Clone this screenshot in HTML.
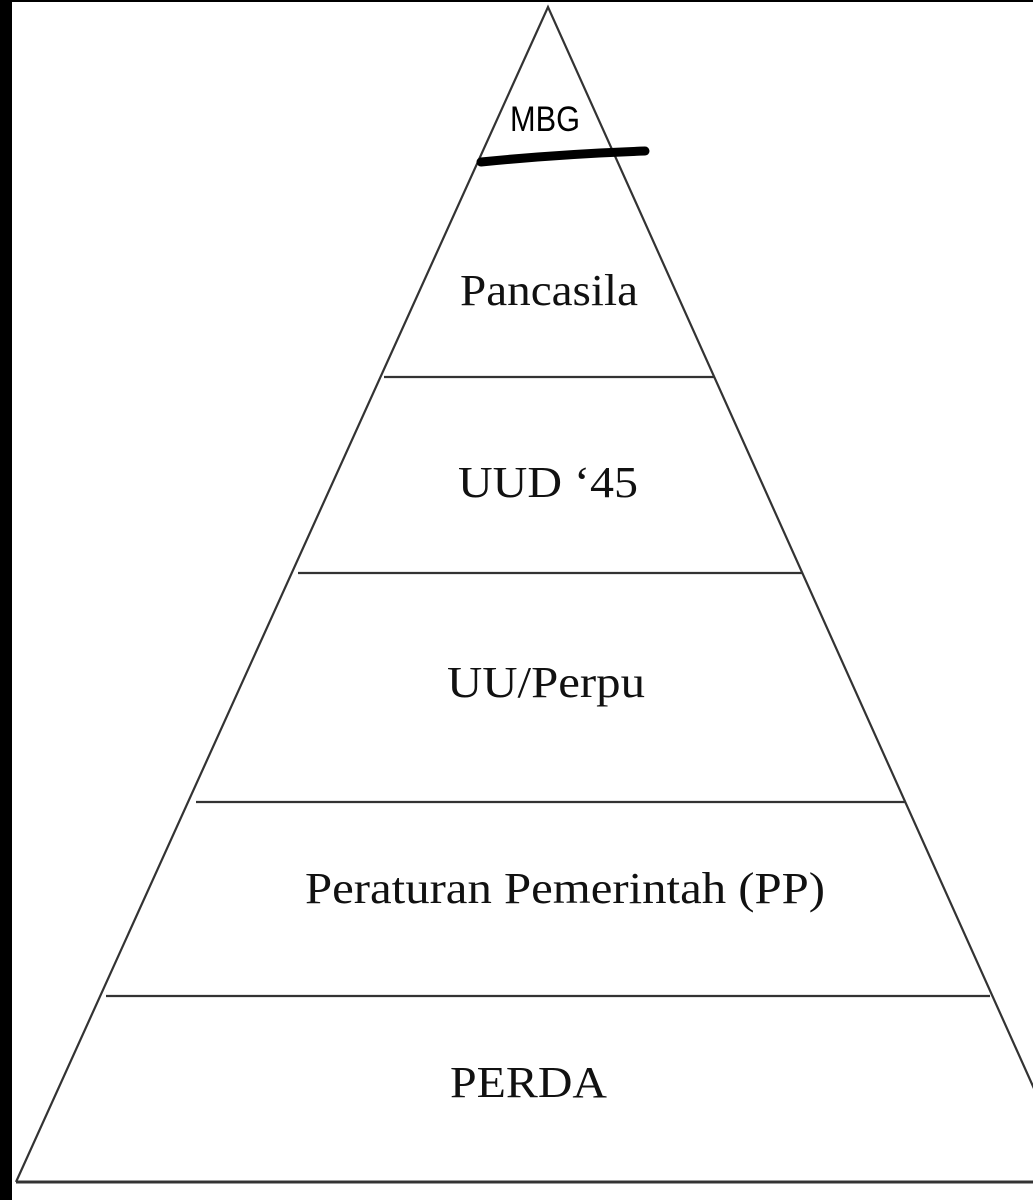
<!DOCTYPE html>
<html><head><meta charset="utf-8"><style>
html,body{margin:0;padding:0;background:#fff;}
svg{display:block;}
</style></head><body>
<svg width="1033" height="1200" viewBox="0 0 1033 1200" xmlns="http://www.w3.org/2000/svg">
<rect x="0" y="0" width="1033" height="1200" fill="#fff"/>
<rect x="0" y="0" width="12" height="1200" fill="#000"/>
<rect x="0" y="0" width="1033" height="2" fill="#000"/>
<g stroke="#333" stroke-width="2.2" fill="none">
<polyline points="16,1182 548,7 1076,1182"/>
<line x1="16" y1="1182" x2="1033" y2="1182" stroke-width="3"/>
<line x1="384" y1="377" x2="714" y2="377"/>
<line x1="298" y1="573" x2="802" y2="573"/>
<line x1="196" y1="802" x2="906" y2="802"/>
<line x1="106" y1="996" x2="990" y2="996"/>
</g>
<path d="M481,162 Q560,154 645,151" stroke="#000" stroke-width="9" stroke-linecap="round" fill="none"/>
<text x="510" y="131" font-family="Liberation Sans, sans-serif" font-size="35" textLength="70" lengthAdjust="spacingAndGlyphs" fill="#000">MBG</text>
<g font-family="Liberation Serif, serif" font-size="44" fill="#111">
<text x="460" y="305" textLength="178" lengthAdjust="spacingAndGlyphs">Pancasila</text>
<text x="458" y="497" textLength="180" lengthAdjust="spacingAndGlyphs">UUD ‘45</text>
<text x="447" y="697" textLength="198" lengthAdjust="spacingAndGlyphs">UU/Perpu</text>
<text x="305" y="903" textLength="520" lengthAdjust="spacingAndGlyphs">Peraturan Pemerintah (PP)</text>
<text x="450" y="1097" textLength="157" lengthAdjust="spacingAndGlyphs">PERDA</text>
</g>
</svg>
</body></html>
